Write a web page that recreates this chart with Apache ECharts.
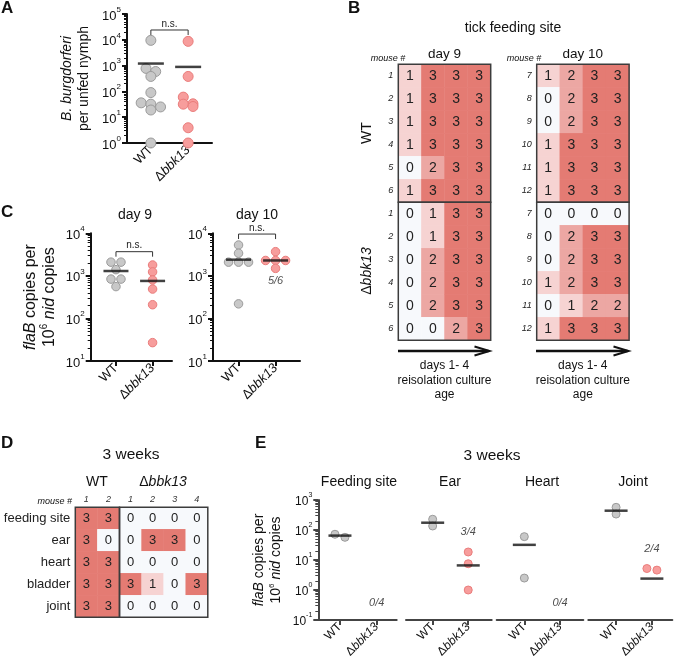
<!DOCTYPE html>
<html><head><meta charset="utf-8">
<script src="https://cdn.jsdelivr.net/npm/echarts@6/dist/echarts.min.js"></script>
<style>html,body{margin:0;padding:0;background:#fff}#c{width:675px;height:666px}</style>
</head><body><div id="c"></div>
<script>
// ================= DATA =================
const GROUPS = ['WT', 'Δbbk13'];
// Panel A: B. burgdorferi per unfed nymph
const A_WT = [9500, 780, 590, 380, 90, 36, 32, 25, 19, 1];
const A_KO = [8700, 380, 60, 33, 32, 26, 3.9, 1];
const A_MEANS = [1200, 890];
const A_NS_AT = 24000;
const A_YTICKS = [1, 10, 100, 1000, 10000, 100000];
// Panel C: flaB copies per 10^6 nid copies
const C9_WT = [2100, 2100, 1400, 840, 840, 560];
const C9_KO = [1800, 1240, 800, 490, 210, 27];
const C9_MEANS = [1300, 760];
const C9_NS_AT = 3700;
const C10_WT = [5300, 3400, 2100, 2100, 2100, 220];
const C10_KO = [3700, 2300, 2300, 2300, 1500];
const C10_MEANS = [2400, 2300];
const C10_NS_AT = 9600;
const C10_FRACTION = '5/6';
const C10_FRACTION_AT = 760;
const C_YTICKS = [10, 100, 1000, 10000];
// Panel B: tick feeding site heat maps (rows = mice, cols = culture days 1-4)
const B_DAYS = ['1', '2', '3', '4'];
const B_DAY9_MICE = ['1', '2', '3', '4', '5', '6'];
const B_DAY10_MICE = ['7', '8', '9', '10', '11', '12'];
const B_DAY9_WT = [[1,3,3,3],[1,3,3,3],[1,3,3,3],[1,3,3,3],[0,2,3,3],[1,3,3,3]];
const B_DAY9_KO = [[0,1,3,3],[0,1,3,3],[0,2,3,3],[0,2,3,3],[0,2,3,3],[0,0,2,3]];
const B_DAY10_WT = [[1,2,3,3],[0,2,3,3],[0,2,3,3],[1,3,3,3],[1,3,3,3],[1,3,3,3]];
const B_DAY10_KO = [[0,0,0,0],[0,2,3,3],[0,2,3,3],[1,2,3,3],[0,1,2,2],[1,3,3,3]];
// Panel D: 3 weeks heat map
const D_TISSUES = ['feeding site', 'ear', 'heart', 'bladder', 'joint'];
const D_WT_MICE = ['1', '2'];
const D_KO_MICE = ['1', '2', '3', '4'];
const D_WT = [[3,3],[3,0],[3,3],[3,3],[3,3]];
const D_KO = [[0,0,0,0],[0,3,3,0],[0,0,0,0],[3,1,0,3],[0,0,0,0]];
// Panel E: 3 weeks qPCR
const E_TISSUES = ['Feeding site', 'Ear', 'Heart', 'Joint'];
const E_WT = [[57, 72], [228, 136], [60, 2.5], [570, 340]];
const E_KO = [[], [18.5, 7.5, 1], [], [4.6, 5.2]];
const E_MEAN_WT = [65, 175, 32, 440];
const E_MEAN_KO = [null, 6.6, null, 2.4];
const E_FRACTION = ['0/4', '3/4', '0/4', '2/4'];
const E_FRACTION_AT = [0.37, 86, 0.37, 23];
const E_YTICKS = [0.1, 1, 10, 100, 1000];

// ================= STYLE =================
const FONT = '"Liberation Sans", Arial, Helvetica, sans-serif';
const HEAT_COLORS = ['#f7f9fc', '#f6d3d2', '#eca7a3', '#e47b73'];
const GREY = {color: '#c8c8c8', borderColor: '#9b9b9b', borderWidth: 1};
const RED = {color: '#f79d9c', borderColor: '#ea7d7c', borderWidth: 1};

function swarm(values, pxPerDecade, spacing, thresh) {
  const idx = values.map((v, i) => i).sort((a, b) => values[b] - values[a]);
  const offs = new Array(values.length).fill(0);
  let cluster = [], firstY = null;
  const flush = () => cluster.forEach((k, j) => offs[k] = (j - (cluster.length - 1) / 2) * spacing);
  idx.forEach(k => {
    const y = -Math.log10(values[k]) * pxPerDecade;
    if (cluster.length && y - firstY < thresh) cluster.push(k);
    else { flush(); cluster = [k]; firstY = y; }
  });
  flush();
  return offs;
}
function cells(m) { const out = []; m.forEach((row, r) => row.forEach((v, c) => out.push([c, r, v]))); return out; }

const grids = [], xAxes = [], yAxes = [], series = [];
function addGrid(g) { grids.push(Object.assign({outerBoundsMode: 'none', containLabel: false}, g)); return grids.length - 1; }

function catRich(fs) {
  return {n: {fontSize: fs, color: '#111', fontFamily: FONT}, i: {fontSize: fs, fontStyle: 'italic', color: '#111', fontFamily: FONT}};
}
function scatterX(gi, min, max, fs, color) {
  xAxes.push({type: 'value', gridIndex: gi, min, max,
    axisLine: {show: true, onZero: false, lineStyle: {color, width: 2}},
    axisTick: {show: true, customValues: [0, 1], length: 5, lineStyle: {color, width: 2}},
    axisLabel: {show: true, customValues: [0, 1], rotate: 45, margin: 5,
      formatter: v => Math.round(v) === 0 ? '{n|' + GROUPS[0] + '}' : '{n|Δ}{i|' + GROUPS[1].slice(1) + '}',
      rich: catRich(fs)},
    splitLine: {show: false}});
}
function logY(gi, ticks, fs, color, show, name, nameGap, nfs) {
  const lh = fs + 4;
  yAxes.push({type: 'log', gridIndex: gi, logBase: 10, min: ticks[0], max: ticks[ticks.length - 1], show,
    axisLine: {show: true, onZero: false, lineStyle: {color, width: 2}},
    axisTick: {show: true, length: 5, lineStyle: {color, width: 2}},
    minorTick: {show: true, splitNumber: 9, length: 3, lineStyle: {color, width: 1}},
    axisLabel: {margin: 6, formatter: v => '{b|10}{s|' + Math.round(Math.log10(v)) + '}',
      rich: {b: {fontSize: fs, lineHeight: lh, verticalAlign: 'bottom', color: '#111', fontFamily: FONT},
             s: {fontSize: Math.round(fs * 0.62), lineHeight: lh, verticalAlign: 'top', color: '#111', fontFamily: FONT}}},
    splitLine: {show: false},
    name: name || '', nameLocation: 'middle', nameRotate: 90, nameGap: nameGap || 0,
    nameTextStyle: {fontFamily: FONT, color: '#111', fontSize: nfs, lineHeight: nfs + 3,
      rich: {n: {fontSize: nfs, lineHeight: nfs + 3, fontFamily: FONT, color: '#111'},
             i: {fontSize: nfs, lineHeight: nfs + 3, fontStyle: 'italic', fontFamily: FONT, color: '#111'},
             s: {fontSize: Math.round(nfs * 0.6), lineHeight: nfs + 3, verticalAlign: 'top', fontFamily: FONT, color: '#111'}}}});
}
function dots(ai, cat, values, size, style, ppd, spacing, thresh) {
  if (!values.length) return;
  const offs = swarm(values, ppd, spacing, thresh);
  series.push({type: 'scatter', xAxisIndex: ai, yAxisIndex: ai, symbol: 'circle', symbolSize: size, z: 3,
    itemStyle: Object.assign({opacity: 1}, style),
    data: values.map((v, i) => ({value: [cat, v], symbolOffset: [offs[i], 0]}))});
}
function means(ai, vals, w) {
  series.push({type: 'scatter', xAxisIndex: ai, yAxisIndex: ai, symbol: 'rect', symbolSize: [w, 2.5], z: 4,
    itemStyle: {color: '#111'}, data: vals.map((v, i) => v == null ? null : [i, v]).filter(Boolean)});
}
function bracket(ai, top) {
  series.push({type: 'custom', xAxisIndex: ai, yAxisIndex: ai, z: 5, encode: {x: 0, y: 2}, data: [[0, 1, top]],
    renderItem: (params, api) => {
      const p0 = api.coord([api.value(0), api.value(2)]);
      const p1 = api.coord([api.value(1), api.value(2)]);
      return {type: 'group', children: [
        {type: 'polyline', shape: {points: [[p0[0], p0[1] + 5], [p0[0], p0[1]], [p1[0], p1[1]], [p1[0], p1[1] + 5]]},
          style: {stroke: '#333', lineWidth: 1, fill: null}},
        {type: 'text', style: {text: 'n.s.', x: (p0[0] + p1[0]) / 2, y: p0[1] - 1, align: 'center', verticalAlign: 'bottom',
          fontSize: 10, fontFamily: FONT, fill: '#222'}}]};
    }});
}
function fraction(ai, text, at) {
  series.push({type: 'scatter', xAxisIndex: ai, yAxisIndex: ai, symbolSize: 1, z: 5, itemStyle: {color: 'rgba(0,0,0,0)'},
    data: [[1, at]], label: {show: true, position: 'inside', formatter: text, fontStyle: 'italic', fontSize: 11, color: '#222', fontFamily: FONT}});
}
function heat(gi, xcats, ycats, matrix, showY, yfs, yItalic, topLabels, fs) {
  xAxes.push({type: 'category', gridIndex: gi, data: xcats, position: 'top', show: !!topLabels,
    axisLine: {show: false}, axisTick: {show: false}, splitLine: {show: false},
    axisLabel: {show: !!topLabels, fontSize: 9, fontStyle: 'italic', color: '#333', margin: 3, fontFamily: FONT}});
  yAxes.push({type: 'category', gridIndex: gi, data: ycats, inverse: true,
    axisLine: {show: false}, axisTick: {show: false}, splitLine: {show: false},
    axisLabel: {show: showY, fontSize: yfs, fontStyle: yItalic ? 'italic' : 'normal', color: '#222', margin: 5, fontFamily: FONT}});
  series.push({type: 'heatmap', xAxisIndex: gi, yAxisIndex: gi, data: cells(matrix), z: 1,
    label: {show: true, formatter: p => String(p.value[2]), fontSize: fs, color: '#222', fontFamily: FONT},
    itemStyle: {borderWidth: 0}});
}
const HEAT_BORDER = {show: true, borderColor: '#3c3c3c', borderWidth: 1.5, backgroundColor: 'rgba(0,0,0,0)', z: 10};

// ---- Heatmap grids first (series 0..5) ----
let g;
g = addGrid(Object.assign({left: 398.3, top: 64.3, width: 92.4, height: 138}, HEAT_BORDER)); // 0
heat(g, B_DAYS, B_DAY9_MICE, B_DAY9_WT, true, 9, true, false, 14);
g = addGrid(Object.assign({left: 398.3, top: 202.3, width: 92.4, height: 138}, HEAT_BORDER)); // 1
heat(g, B_DAYS, B_DAY9_MICE, B_DAY9_KO, true, 9, true, false, 14);
g = addGrid(Object.assign({left: 536.7, top: 64.3, width: 92.4, height: 138}, HEAT_BORDER)); // 2
heat(g, B_DAYS, B_DAY10_MICE, B_DAY10_WT, true, 9, true, false, 14);
g = addGrid(Object.assign({left: 536.7, top: 202.3, width: 92.4, height: 138}, HEAT_BORDER)); // 3
heat(g, B_DAYS, B_DAY10_MICE, B_DAY10_KO, true, 9, true, false, 14);
g = addGrid(Object.assign({left: 75.3, top: 507.3, width: 44.2, height: 110}, HEAT_BORDER)); // 4
heat(g, D_WT_MICE, D_TISSUES, D_WT, true, 13, false, true, 13);
g = addGrid(Object.assign({left: 119.5, top: 507.3, width: 88.3, height: 110}, HEAT_BORDER)); // 5
heat(g, D_KO_MICE, D_TISSUES, D_KO, false, 13, false, true, 13);

// ---- Panel A (grid 6) ----
g = addGrid({left: 127, top: 14, width: 85, height: 129});
scatterX(g, -0.64, 1.64, 13, '#111');
logY(g, A_YTICKS, 13, '#111', true, '{i|B. burgdorferi}\n{n|per unfed nymph}', 34, 14);
dots(g, 0, A_WT, 10, GREY, 25.8, 9.7, 7);
dots(g, 1, A_KO, 10, RED, 25.8, 9.7, 7);
means(g, A_MEANS, 26);
bracket(g, A_NS_AT);

// ---- Panel C day 9 (grid 7) ----
g = addGrid({left: 90.7, top: 233.3, width: 81.3, height: 127.7});
scatterX(g, -0.69, 1.53, 13, '#111');
logY(g, C_YTICKS, 13, '#111', true, '{i|flaB}{n| copies per}\n{n|10}{s|6}{i| nid}{n| copies}', 32, 16);
dots(g, 0, C9_WT, 8.5, GREY, 42.6, 10, 6);
dots(g, 1, C9_KO, 8.5, RED, 42.6, 10, 6);
means(g, C9_MEANS, 25);
bracket(g, C9_NS_AT);

// ---- Panel C day 10 (grid 8) ----
g = addGrid({left: 213, top: 233.3, width: 87, height: 127.7});
scatterX(g, -0.69, 1.66, 13, '#111');
logY(g, C_YTICKS, 13, '#111', true, '', 0, 14);
dots(g, 0, C10_WT, 8.5, GREY, 42.6, 10, 6);
dots(g, 1, C10_KO, 8.5, RED, 42.6, 10, 6);
means(g, C10_MEANS, 25);
bracket(g, C10_NS_AT);
fraction(g, C10_FRACTION, C10_FRACTION_AT);

// ---- Panel E (grids 9..12) ----
const E_LAYOUT = [[318.3, 78.4, -0.59, 1.545], [406, 85.7, -0.75, 1.66], [496.7, 86.6, -0.773, 1.65], [588.3, 84, -0.776, 1.57]];
E_TISSUES.forEach((t, k) => {
  const L = E_LAYOUT[k];
  const gi = addGrid({left: L[0], top: 500, width: L[1], height: 120});
  scatterX(gi, L[2], L[3], 12, '#444');
  logY(gi, E_YTICKS, 12, '#444', k === 0, k === 0 ? '{i|flaB}{n| copies per}\n{n|10}{s|6}{i| nid}{n| copies}' : '', 34, 14);
  dots(gi, 0, E_WT[k], 8, GREY, 30, 10, 5);
  dots(gi, 1, E_KO[k], 8, RED, 30, 10, 5);
  means(gi, [E_MEAN_WT[k], E_MEAN_KO[k]], 23);
  fraction(gi, E_FRACTION[k], E_FRACTION_AT[k]);
});

// ---- annotations ----
function txt(x, y, text, size, extra, el) {
  return Object.assign({type: 'text', x, y, style: Object.assign({text, fontSize: size, fontFamily: FONT, fill: '#111', align: 'center', verticalAlign: 'middle'}, extra || {})}, el || {});
}
const koRich = s => ({n: {fontSize: s, fontFamily: FONT, fill: '#111'}, i: {fontSize: s, fontStyle: 'italic', fontFamily: FONT, fill: '#111'}});
const bold = {fontWeight: 'bold', align: 'left'};
const elements = [
  txt(1, 8, 'A', 17, bold), txt(348, 8, 'B', 17, bold), txt(1, 212, 'C', 17, bold),
  txt(1, 443, 'D', 17, bold), txt(255, 443, 'E', 17, bold),
  txt(513, 28, 'tick feeding site', 14),
  txt(444.5, 54, 'day 9', 13.5), txt(582.8, 54, 'day 10', 13.5),
  txt(388, 58, 'mouse #', 9, {fontStyle: 'italic'}), txt(524, 58, 'mouse #', 9, {fontStyle: 'italic'}),
  txt(367, 133, 'WT', 14, null, {rotation: Math.PI / 2}),
  txt(367, 271, '{n|Δ}{i|bbk13}', 14, {rich: koRich(14)}, {rotation: Math.PI / 2}),
  txt(135, 215, 'day 9', 14), txt(257, 215, 'day 10', 14),
  txt(131, 455, '3 weeks', 15.5), txt(97, 482, 'WT', 14), txt(163, 482, '{n|Δ}{i|bbk13}', 14, {rich: koRich(14)}),
  txt(72, 501, 'mouse #', 9, {fontStyle: 'italic', align: 'right'}),
  txt(492, 456, '3 weeks', 15.5),
  txt(359, 482, E_TISSUES[0], 14), txt(450, 482, E_TISSUES[1], 14), txt(542, 482, E_TISSUES[2], 14), txt(633, 482, E_TISSUES[3], 14)
];
[[398, 489.5, 444.5], [536, 628.5, 582.8]].forEach(a => {
  elements.push({type: 'line', shape: {x1: a[0], y1: 351, x2: a[1] - 1, y2: 351}, style: {stroke: '#111', lineWidth: 2.5}});
  elements.push({type: 'polyline', shape: {points: [[a[1] - 15, 346.5], [a[1], 351], [a[1] - 15, 355.5]]}, style: {stroke: '#111', lineWidth: 2, fill: null}});
  elements.push(txt(a[2], 366, 'days 1- 4', 12));
  elements.push(txt(a[2], 380.5, 'reisolation culture', 12));
  elements.push(txt(a[2], 394.5, 'age', 12));
});

const chart = echarts.init(document.getElementById('c'), null, {renderer: 'canvas', width: 675, height: 666});
chart.setOption({
  animation: false,
  backgroundColor: '#fff',
  textStyle: {fontFamily: FONT},
  grid: grids, xAxis: xAxes, yAxis: yAxes, series,
  visualMap: {type: 'piecewise', show: false, dimension: 2, seriesIndex: [0, 1, 2, 3, 4, 5],
    pieces: HEAT_COLORS.map((c, i) => ({value: i, color: c}))},
  graphic: {elements}
});
</script></body></html>
